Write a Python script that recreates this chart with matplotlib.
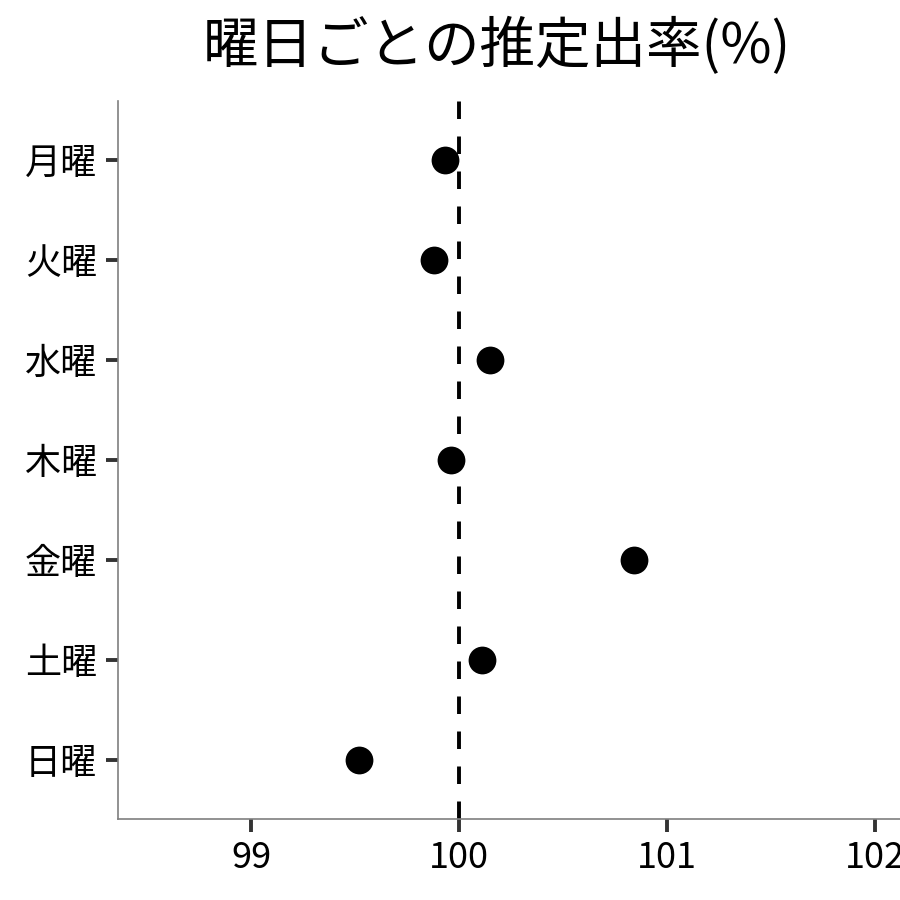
import matplotlib
matplotlib.use("Agg")
import matplotlib.pyplot as plt

plt.rcParams['font.family'] = ['Noto Sans CJK JP', 'DejaVu Sans']

days = ["月曜", "火曜", "水曜", "木曜", "金曜", "土曜", "日曜"]
rates = [99.93, 99.88, 100.15, 99.96, 100.84, 100.11, 99.52]
xticks = [99, 100, 101, 102]

fig = plt.figure(figsize=(9, 9), dpi=100)
ax = fig.add_axes([118 / 900, 1 - 819 / 900, 782 / 900, 718 / 900])

ypos = list(range(len(days)))[::-1]
ax.axvline(100, color='black', linestyle=(0, (4.5, 4.5)), linewidth=2.8, zorder=1)
ax.scatter(rates, ypos, s=400, color='black', zorder=3, linewidths=0)

ax.set_xlim(98.36, 102.12)
ax.set_ylim(-0.59, 6.59)
ax.set_xticks(xticks)
ax.set_xticklabels([str(t) for t in xticks])
ax.set_yticks(ypos)
ax.set_yticklabels(days)

for s in ['top', 'right']:
    ax.spines[s].set_visible(False)
for s in ['left', 'bottom']:
    ax.spines[s].set_color('#7f7f7f')
    ax.spines[s].set_linewidth(1.2)

ax.tick_params(axis='both', length=9, width=2.8, color='#333333',
               labelsize=26, labelcolor='black', pad=6)

fig.text(497 / 900, 1 - 47 / 900, "曜日ごとの推定出率(%)", fontsize=40,
         ha='center', va='center')

fig.savefig("out.png", dpi=100)
